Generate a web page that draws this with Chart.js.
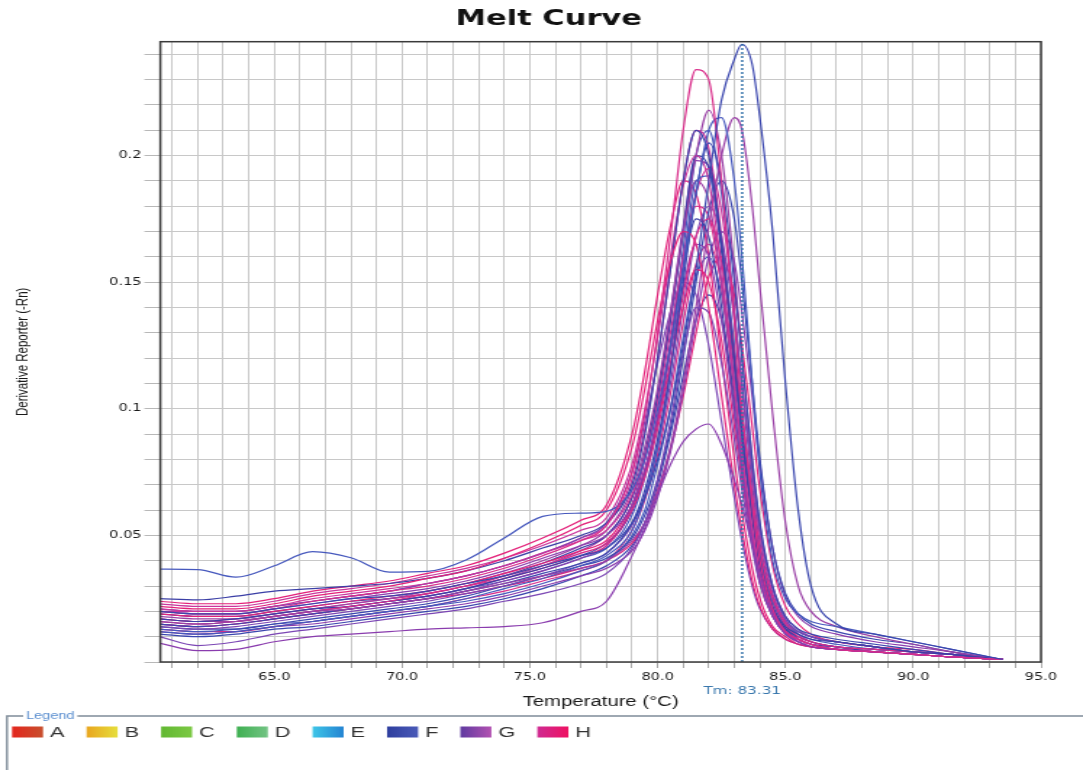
<!DOCTYPE html>
<html><head><meta charset="utf-8">
<script src="https://cdn.jsdelivr.net/npm/chart.js@4.4.1/dist/chart.umd.min.js"></script>
<style>
html,body{margin:0;padding:0;background:#fff;overflow:hidden;}
#wrap{width:747px;height:770px;transform:scaleX(1.4498);transform-origin:0 0;}
canvas{display:block;}
</style></head><body>
<div id="wrap"><canvas id="c" width="747" height="770"></canvas></div>
<script>
// Temperatures (°C) shared by every well curve
const TEMPS = [60.5,62,63.5,65,66.5,68,69.5,71,72.5,74,75.5,77,78,79,79.5,80,80.5,81,81.5,82,82.5,83,83.3,83.7,84,84.5,85,85.5,86,87,88.5,90,91.5,93.5];

// Row F wells (derivative reporter, -Rn')
const F01 = [0.020,0.019,0.019,0.021,0.023,0.025,0.026,0.028,0.031,0.034,0.038,0.042,0.045,0.055,0.065,0.080,0.100,0.125,0.155,0.190,0.222,0.238,0.244,0.236,0.215,0.170,0.110,0.060,0.030,0.015,0.011,0.008,0.005,0.001];
const F02 = [0.0367,0.0365,0.0335,0.038,0.0436,0.0412,0.0355,0.0358,0.0403,0.049,0.0575,0.0588,0.0595,0.068,0.080,0.100,0.125,0.155,0.185,0.210,0.215,0.190,0.160,0.110,0.075,0.040,0.025,0.019,0.016,0.014,0.011,0.008,0.005,0.001];
const F03 = [0.025,0.0245,0.026,0.028,0.029,0.030,0.031,0.033,0.036,0.040,0.045,0.050,0.055,0.070,0.090,0.120,0.155,0.190,0.210,0.200,0.165,0.120,0.090,0.058,0.040,0.022,0.014,0.011,0.009,0.008,0.006,0.004,0.003,0.001];
const F04 = [0.015,0.014,0.015,0.017,0.019,0.021,0.023,0.025,0.028,0.031,0.035,0.039,0.043,0.055,0.068,0.088,0.115,0.150,0.185,0.205,0.190,0.150,0.120,0.080,0.055,0.030,0.018,0.013,0.011,0.009,0.007,0.005,0.003,0.001];
const F05 = [0.012,0.011,0.012,0.014,0.016,0.018,0.020,0.022,0.025,0.029,0.033,0.038,0.042,0.052,0.065,0.085,0.115,0.155,0.190,0.192,0.165,0.125,0.098,0.065,0.044,0.024,0.015,0.011,0.009,0.007,0.005,0.004,0.003,0.001];
const F06 = [0.017,0.016,0.017,0.019,0.021,0.022,0.024,0.026,0.029,0.033,0.037,0.042,0.047,0.060,0.075,0.095,0.125,0.155,0.175,0.168,0.140,0.100,0.075,0.048,0.032,0.019,0.013,0.010,0.008,0.006,0.005,0.004,0.003,0.001];
const F07 = [0.014,0.013,0.013,0.015,0.017,0.019,0.021,0.023,0.026,0.030,0.034,0.038,0.041,0.049,0.058,0.072,0.092,0.120,0.150,0.178,0.190,0.175,0.150,0.110,0.080,0.045,0.027,0.019,0.015,0.012,0.009,0.007,0.004,0.001];
const F08 = [0.013,0.012,0.013,0.015,0.016,0.018,0.020,0.022,0.024,0.027,0.031,0.036,0.040,0.050,0.060,0.078,0.100,0.128,0.152,0.160,0.145,0.112,0.090,0.062,0.043,0.025,0.016,0.012,0.010,0.008,0.006,0.004,0.003,0.001];
const F09 = [0.019,0.018,0.018,0.020,0.022,0.024,0.025,0.027,0.030,0.034,0.039,0.045,0.050,0.065,0.082,0.105,0.135,0.170,0.200,0.195,0.162,0.118,0.090,0.058,0.038,0.021,0.013,0.009,0.007,0.006,0.004,0.003,0.002,0.001];
const F10 = [0.011,0.010,0.011,0.013,0.014,0.016,0.018,0.020,0.022,0.025,0.029,0.034,0.038,0.046,0.055,0.070,0.090,0.113,0.135,0.145,0.135,0.105,0.085,0.060,0.042,0.025,0.016,0.012,0.010,0.008,0.006,0.004,0.003,0.001];
const F11 = [0.016,0.015,0.016,0.018,0.020,0.022,0.024,0.026,0.029,0.032,0.036,0.041,0.045,0.058,0.073,0.095,0.125,0.163,0.200,0.210,0.185,0.140,0.108,0.070,0.047,0.026,0.016,0.012,0.010,0.008,0.006,0.004,0.003,0.001];

// Row G wells
const G01 = [0.0075,0.0045,0.005,0.008,0.010,0.011,0.012,0.013,0.0135,0.014,0.0155,0.020,0.024,0.042,0.053,0.066,0.078,0.087,0.092,0.094,0.086,0.072,0.062,0.046,0.035,0.020,0.012,0.008,0.006,0.005,0.004,0.003,0.002,0.001];
const G02 = [0.010,0.0065,0.008,0.011,0.013,0.015,0.017,0.019,0.021,0.024,0.027,0.031,0.035,0.045,0.055,0.072,0.095,0.122,0.140,0.138,0.118,0.088,0.068,0.045,0.031,0.018,0.011,0.008,0.006,0.005,0.004,0.003,0.002,0.001];
const G03 = [0.016,0.015,0.016,0.018,0.020,0.021,0.023,0.025,0.028,0.031,0.034,0.037,0.040,0.048,0.055,0.068,0.085,0.110,0.140,0.172,0.200,0.215,0.210,0.180,0.148,0.098,0.055,0.030,0.020,0.014,0.010,0.007,0.004,0.001];
const G04 = [0.020,0.019,0.019,0.021,0.023,0.025,0.027,0.029,0.032,0.036,0.041,0.046,0.050,0.062,0.076,0.097,0.122,0.148,0.165,0.160,0.135,0.098,0.075,0.048,0.032,0.018,0.011,0.008,0.006,0.005,0.004,0.003,0.002,0.001];
const G05 = [0.014,0.013,0.014,0.016,0.018,0.020,0.022,0.024,0.027,0.030,0.034,0.039,0.043,0.054,0.066,0.085,0.110,0.140,0.168,0.180,0.168,0.135,0.110,0.076,0.052,0.029,0.017,0.012,0.010,0.008,0.006,0.004,0.003,0.001];
const G06 = [0.018,0.017,0.017,0.019,0.021,0.023,0.025,0.028,0.031,0.035,0.040,0.046,0.052,0.068,0.085,0.108,0.138,0.170,0.190,0.182,0.150,0.107,0.080,0.050,0.033,0.019,0.012,0.009,0.007,0.005,0.004,0.003,0.002,0.001];
const G07 = [0.012,0.011,0.012,0.014,0.015,0.017,0.019,0.021,0.023,0.026,0.030,0.034,0.037,0.044,0.052,0.065,0.083,0.107,0.135,0.160,0.170,0.158,0.138,0.105,0.078,0.045,0.026,0.018,0.014,0.011,0.008,0.006,0.004,0.001];
const G08 = [0.021,0.020,0.020,0.022,0.024,0.026,0.028,0.031,0.034,0.038,0.043,0.049,0.055,0.075,0.095,0.118,0.138,0.150,0.145,0.125,0.095,0.065,0.048,0.030,0.021,0.013,0.009,0.007,0.006,0.005,0.004,0.003,0.002,0.001];
const G09 = [0.017,0.016,0.016,0.018,0.020,0.022,0.024,0.026,0.029,0.033,0.038,0.044,0.050,0.065,0.082,0.105,0.135,0.170,0.200,0.218,0.200,0.155,0.120,0.080,0.054,0.030,0.018,0.013,0.010,0.008,0.006,0.004,0.003,0.001];
const G10 = [0.015,0.014,0.015,0.017,0.019,0.021,0.023,0.025,0.028,0.032,0.036,0.041,0.046,0.062,0.080,0.105,0.138,0.172,0.198,0.196,0.165,0.120,0.092,0.060,0.040,0.022,0.013,0.009,0.007,0.006,0.004,0.003,0.002,0.001];

// Row H wells
const H01 = [0.020,0.019,0.019,0.021,0.024,0.026,0.028,0.030,0.033,0.037,0.042,0.048,0.054,0.075,0.098,0.130,0.168,0.210,0.234,0.230,0.190,0.135,0.100,0.062,0.040,0.021,0.012,0.009,0.007,0.005,0.004,0.003,0.002,0.001];
const H02 = [0.022,0.021,0.021,0.023,0.026,0.028,0.030,0.033,0.036,0.041,0.047,0.054,0.060,0.085,0.108,0.135,0.158,0.170,0.165,0.140,0.105,0.070,0.052,0.032,0.022,0.013,0.009,0.007,0.006,0.005,0.004,0.003,0.002,0.001];
const H03 = [0.023,0.022,0.022,0.024,0.027,0.029,0.031,0.034,0.037,0.041,0.046,0.052,0.057,0.078,0.100,0.128,0.160,0.188,0.200,0.190,0.155,0.110,0.083,0.052,0.034,0.019,0.012,0.009,0.007,0.005,0.004,0.003,0.002,0.001];
const H04 = [0.016,0.015,0.016,0.018,0.020,0.022,0.024,0.027,0.030,0.034,0.038,0.043,0.047,0.060,0.073,0.092,0.117,0.145,0.168,0.175,0.158,0.122,0.097,0.066,0.045,0.025,0.015,0.010,0.008,0.006,0.005,0.004,0.003,0.001];
const H05 = [0.019,0.018,0.018,0.020,0.022,0.024,0.026,0.028,0.031,0.035,0.039,0.044,0.048,0.062,0.076,0.095,0.118,0.140,0.155,0.150,0.127,0.093,0.072,0.047,0.031,0.018,0.011,0.008,0.006,0.005,0.004,0.003,0.002,0.001];
const H06 = [0.021,0.020,0.020,0.022,0.025,0.027,0.029,0.031,0.034,0.038,0.043,0.048,0.052,0.066,0.081,0.102,0.130,0.160,0.185,0.195,0.178,0.138,0.110,0.074,0.050,0.027,0.016,0.011,0.008,0.006,0.005,0.004,0.003,0.001];
const H07 = [0.017,0.016,0.017,0.019,0.021,0.023,0.025,0.027,0.030,0.033,0.037,0.042,0.046,0.060,0.075,0.097,0.125,0.157,0.180,0.176,0.148,0.107,0.081,0.052,0.034,0.019,0.012,0.009,0.007,0.005,0.004,0.003,0.002,0.001];
const H08 = [0.015,0.014,0.015,0.017,0.019,0.021,0.023,0.025,0.027,0.030,0.033,0.037,0.040,0.047,0.055,0.067,0.084,0.105,0.130,0.152,0.160,0.145,0.125,0.093,0.068,0.038,0.022,0.015,0.011,0.008,0.006,0.005,0.003,0.001];
const H09 = [0.020,0.020,0.020,0.022,0.024,0.026,0.028,0.031,0.034,0.038,0.043,0.049,0.054,0.072,0.092,0.120,0.155,0.190,0.210,0.203,0.168,0.120,0.090,0.057,0.037,0.020,0.012,0.009,0.007,0.005,0.004,0.003,0.002,0.001];
const H10 = [0.013,0.012,0.012,0.014,0.016,0.018,0.020,0.022,0.025,0.028,0.032,0.036,0.040,0.052,0.064,0.082,0.106,0.134,0.157,0.165,0.150,0.116,0.092,0.062,0.042,0.024,0.014,0.010,0.008,0.006,0.005,0.004,0.003,0.001];
const H11 = [0.024,0.023,0.023,0.025,0.028,0.030,0.032,0.035,0.038,0.043,0.049,0.056,0.062,0.090,0.115,0.145,0.172,0.190,0.185,0.160,0.120,0.080,0.059,0.037,0.025,0.014,0.010,0.007,0.006,0.005,0.004,0.003,0.002,0.001];

// Melting temperature marker
const TM = 83.31;

// Axis tick labels
const X_LABEL_VALUES = [65, 70, 75, 80, 85, 90, 95];
const Y_LABEL_VALUES = [0.05, 0.1, 0.15, 0.2];

// Legend rows
const LEGEND_LABELS = ['A','B','C','D','E','F','G','H'];
const LEGEND_COLORS = [['#e4261d','#c8502e'],['#e9a61f','#e6de3c'],['#62b832','#7cc944'],['#3fb052','#73c484'],['#3ec6e8','#2484d2'],['#2f3f9f','#4a5ab8'],['#5f3aa0','#b352b2'],['#cf2a92','#ef1262']];

const SHADES = {
  F: ['#3a46ae','#4658bd','#3b3fa6'],
  G: ['#8a3cae','#7b46b4','#9a40a6'],
  H: ['#d92c8a','#e3217a','#c9359c']
};
const ROW_F = [F01,F02,F03,F04,F05,F06,F07,F08,F09,F10,F11];
const ROW_G = [G01,G02,G03,G04,G05,G06,G07,G08,G09,G10];
const ROW_H = [H01,H02,H03,H04,H05,H06,H07,H08,H09,H10,H11];

function curve(row, vals, i) {
  return {
    label: row + (i + 1),
    data: TEMPS.map((t, k) => ({x: t, y: vals[k]})),
    borderColor: SHADES[row][i % 3],
    borderWidth: 1.2,
    pointRadius: 0,
    fill: false,
    cubicInterpolationMode: 'monotone'
  };
}

const datasets = [{
  label: 'Tm',
  data: [{x: TM, y: 0}, {x: TM, y: 0.245}],
  borderColor: '#2f6fa8',
  borderWidth: 1.4,
  borderDash: [2, 2],
  pointRadius: 0,
  fill: false
}];
const n = Math.max(ROW_F.length, ROW_G.length, ROW_H.length);
for (let i = 0; i < n; i++) {
  if (ROW_F[i]) datasets.push(curve('F', ROW_F[i], i));
  if (ROW_H[i]) datasets.push(curve('H', ROW_H[i], i));
  if (ROW_G[i]) datasets.push(curve('G', ROW_G[i], i));
}

const near = (v, list) => list.some(t => Math.abs(v - t) < 1e-7);

const decor = {
  id: 'decor',
  afterDatasetsDraw(chart) {
    const {ctx, chartArea: a} = chart;
    ctx.save();
    ctx.strokeStyle = '#3a3a3a';
    ctx.lineWidth = 1.5;
    ctx.strokeRect(a.left, a.top, a.right - a.left, a.bottom - a.top);
    ctx.restore();
  },
  afterDraw(chart) {
    const {ctx} = chart;
    ctx.save();
    // Tm label
    ctx.font = '10.5px "DejaVu Sans"';
    ctx.fillStyle = '#3a78ad';
    ctx.textAlign = 'center';
    ctx.textBaseline = 'middle';
    ctx.fillText('Tm: ' + TM.toFixed(2), chart.scales.x.getPixelForValue(TM), 691);
    // Legend frame
    ctx.strokeStyle = '#7f8c99';
    ctx.lineWidth = 1.4;
    ctx.beginPath();
    ctx.moveTo(4.8, 770); ctx.lineTo(4.8, 716); ctx.lineTo(747, 716);
    ctx.stroke();
    ctx.font = '10px "Liberation Sans", Arial';
    ctx.textAlign = 'left';
    const lw = ctx.measureText('Legend').width;
    ctx.fillStyle = '#fff';
    ctx.fillRect(16, 709, lw + 4, 14);
    ctx.fillStyle = '#5b8fd0';
    ctx.fillText('Legend', 18, 716);
    // Legend items
    ctx.font = '15px "Liberation Sans", Arial';
    let x = 8.3;
    LEGEND_LABELS.forEach((lab, i) => {
      const g = ctx.createLinearGradient(x, 0, x + 21.4, 0);
      g.addColorStop(0, LEGEND_COLORS[i][0]);
      g.addColorStop(1, LEGEND_COLORS[i][1]);
      ctx.fillStyle = g;
      ctx.fillRect(x, 726.5, 21.4, 11);
      ctx.fillStyle = '#333';
      ctx.fillText(lab, x + 26.2, 732.5);
      x += 26.2 + ctx.measureText(lab).width + 15.2;
    });
    ctx.restore();
  }
};

Chart.defaults.font.family = '"Liberation Sans", Arial, sans-serif';
new Chart(document.getElementById('c'), {
  type: 'line',
  data: {datasets},
  plugins: [decor],
  options: {
    responsive: false,
    animation: false,
    events: [],
    layout: {padding: {left: 10, right: 0, top: 0, bottom: 58}},
    plugins: {
      legend: {display: false},
      tooltip: {enabled: false},
      title: {
        display: true,
        text: 'Melt Curve',
        color: '#111',
        font: {family: '"DejaVu Sans"', size: 21, weight: 'bold'},
        padding: {top: 7.4, bottom: 9.1}
      }
    },
    scales: {
      x: {
        type: 'linear',
        min: 60.54, max: 95,
        afterFit: s => { s.height = 50; },
        grid: {color: '#c8c8c8', lineWidth: 1, tickLength: 6, tickColor: '#a8a8a8'},
        border: {display: false},
        ticks: {
          stepSize: 1, autoSkip: false, maxRotation: 0, minRotation: 0, includeBounds: false,
          padding: 3, color: '#1a1a1a', font: {family: '"DejaVu Sans"', size: 10},
          callback: v => near(v, X_LABEL_VALUES) ? Number(v).toFixed(1) : ''
        },
        title: {display: true, text: 'Temperature (°C)', color: '#1a1a1a',
          font: {family: '"Liberation Sans", Arial', size: 14}, padding: {top: 0, bottom: 1.6}}
      },
      y: {
        type: 'linear',
        min: 0, max: 0.245,
        afterFit: s => { s.width = 100.6; },
        grid: {color: '#c8c8c8', lineWidth: 1, tickLength: 11, tickColor: '#b8b8b8'},
        border: {display: false},
        ticks: {
          stepSize: 0.01, autoSkip: false, includeBounds: false,
          padding: 2, color: '#1a1a1a', font: {family: '"DejaVu Sans"', size: 10},
          callback: v => near(v, Y_LABEL_VALUES) ? String(Number(Number(v).toFixed(2))) : ''
        },
        title: {display: true, text: 'Derivative Reporter (-Rn)', color: '#1a1a1a',
          font: {family: '"Liberation Sans", Arial', size: 11.5}, padding: {top: -1, bottom: 0}}
      },
      y2: {
        type: 'linear', position: 'right', display: true,
        afterFit: s => { s.width = 29; },
        grid: {display: false, drawTicks: false},
        border: {display: false},
        ticks: {display: false}
      }
    }
  }
});
</script>
</body></html>
